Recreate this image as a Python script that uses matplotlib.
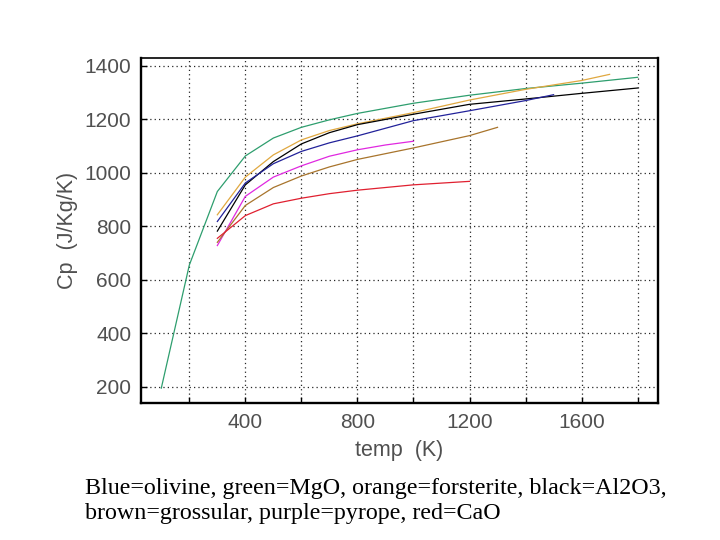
import numpy as np
import matplotlib
matplotlib.use("Agg")
import matplotlib.pyplot as plt
from matplotlib.ticker import MultipleLocator

# ==============================
#  Heat capacity curves
# ==============================
t_mgo = [100, 200, 300, 400, 500, 600, 700, 800, 1000, 1200, 1400, 1600, 1800]
cp_mgo = [195, 655, 930, 1063, 1130, 1170, 1198, 1222, 1260, 1290, 1315, 1335, 1357]

t_fo = [300, 400, 500, 600, 700, 800, 1000, 1200, 1400, 1600, 1700]
cp_fo = [843, 984, 1067, 1123, 1158, 1183, 1225, 1272, 1312, 1345, 1368]

t_al = [300, 400, 500, 600, 700, 800, 1000, 1200, 1400, 1600, 1800]
cp_al = [782, 955, 1042, 1108, 1150, 1180, 1219, 1256, 1276, 1297, 1317]

t_ol = [300, 400, 500, 600, 700, 800, 1000, 1200, 1400, 1500]
cp_ol = [818, 962, 1034, 1080, 1112, 1138, 1195, 1232, 1270, 1292]

t_py = [300, 400, 500, 600, 700, 800, 900, 1000]
cp_py = [728, 912, 984, 1026, 1062, 1086, 1104, 1118]

t_gr = [300, 400, 500, 600, 700, 800, 1000, 1200, 1300]
cp_gr = [740, 878, 945, 988, 1022, 1050, 1093, 1139, 1170]

t_cao = [300, 400, 500, 600, 700, 800, 1000, 1200]
cp_cao = [755, 840, 884, 905, 922, 935, 955, 968]

caption = ("Blue=olivine, green=MgO, orange=forsterite, black=Al2O3,\n"
           "brown=grossular, purple=pyrope, red=CaO")

# ==============================
#  Plot
# ==============================
fig = plt.figure(figsize=(7.2, 5.4), dpi=100)
ax = fig.add_axes([0.196, 0.254, 0.718, 0.639])

ax.plot(t_mgo, cp_mgo, color="#2e9e6e", lw=0.9)
ax.plot(t_fo, cp_fo, color="#e0a840", lw=0.9)
ax.plot(t_al, cp_al, color="black", lw=0.9)
ax.plot(t_ol, cp_ol, color="#22229a", lw=0.9)
ax.plot(t_py, cp_py, color="#e028e0", lw=0.9)
ax.plot(t_gr, cp_gr, color="#a8742c", lw=0.9)
ax.plot(t_cao, cp_cao, color="#e02030", lw=0.9)

ax.set_xlim(28, 1873)
ax.set_ylim(140, 1430)
ax.xaxis.set_major_locator(MultipleLocator(400))
ax.xaxis.set_minor_locator(MultipleLocator(200))
ax.yaxis.set_major_locator(MultipleLocator(200))

ax.grid(True, which="both", axis="x", color="0.15", linestyle=(0, (1, 2.5)), lw=0.9)
ax.grid(True, which="major", axis="y", color="0.15", linestyle=(0, (1, 2.5)), lw=0.9)

for s in ax.spines.values():
    s.set_linewidth(1.7)
ax.spines["top"].set_linewidth(1.2)

ax.tick_params(which="both", direction="in", length=4, width=1, top=False, right=False,
               labelsize=15, labelcolor="#505050", pad=7)

lab_font = dict(family="Liberation Sans", color="#505050", fontsize=15.5)
for lab in ax.get_xticklabels() + ax.get_yticklabels():
    lab.set_family("Liberation Sans")

ax.set_xlabel("temp  (K)", labelpad=6, **lab_font)
ax.set_ylabel("Cp  (J/Kg/K)", labelpad=5, **lab_font)

fig.text(0.118, 0.0715, caption, family="Liberation Serif", fontsize=17.3,
         color="black", va="center", ha="left", linespacing=1.25)

fig.savefig("out.png", dpi=100)
